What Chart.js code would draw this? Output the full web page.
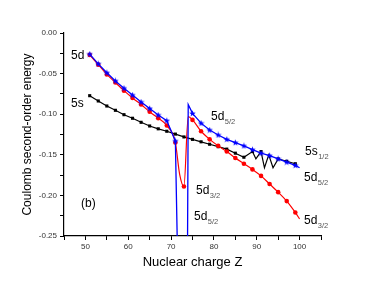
<!DOCTYPE html>
<html><head><meta charset="utf-8">
<script src="https://cdn.jsdelivr.net/npm/chart.js@4/dist/chart.umd.min.js"></script>
<style>html,body{margin:0;padding:0;background:#fff}</style>
</head><body>
<canvas id="c" width="374" height="286" style="width:374px;height:286px;display:block"></canvas>
<script>
// Nuclear charge Z and Coulomb second-order energies
const zBlue = [51,53,55,57,59,61,63,65,67,69,71,71.6,73.8,74,75,77,79,81,83,85,87,89,91,93,95,97,99,100];
const eBlue = [-0.026,-0.038,-0.049,-0.059,-0.068,-0.0765,-0.085,-0.093,-0.101,-0.108,-0.133,-0.30,-0.30,-0.088,-0.099,-0.111,-0.1195,-0.1256,-0.131,-0.135,-0.139,-0.1437,-0.148,-0.151,-0.155,-0.159,-0.163,-0.166];
const zRed = [51,53,55,57,59,61,63,65,67,69,71,72,73,74,75,77,79,81,83,85,87,89,91,93,95,97,99,100];
const eRed = [-0.027,-0.039,-0.051,-0.061,-0.071,-0.080,-0.088,-0.097,-0.105,-0.114,-0.135,-0.174,-0.189,-0.103,-0.107,-0.121,-0.131,-0.139,-0.146,-0.154,-0.161,-0.168,-0.176,-0.186,-0.196,-0.207,-0.221,-0.229];
const zBlack = [51,53,55,57,59,61,63,65,67,69,71,73,75,77,79,81,83,85,87,89,89.8,91,91.8,92.8,93.8,95,97,99];
const eBlack = [-0.0772,-0.0837,-0.0899,-0.0952,-0.1006,-0.105,-0.110,-0.1145,-0.118,-0.121,-0.1245,-0.128,-0.131,-0.134,-0.137,-0.140,-0.143,-0.148,-0.153,-0.146,-0.155,-0.146,-0.166,-0.150,-0.166,-0.155,-0.158,-0.161];
const xTicks = [50,60,70,80,90,100];
const yTicks = [0.00,-0.05,-0.10,-0.15,-0.20,-0.25];

const pts = (zs, es) => zs.map((z, i) => ({x: z, y: es[i]}));
const marked = v => Number.isInteger(v) && v % 2 === 1;

function makeStar(color) {
  const c = document.createElement('canvas');
  c.width = 7; c.height = 7;
  const g = c.getContext('2d');
  g.fillStyle = color;
  g.beginPath();
  for (let i = 0; i < 10; i++) {
    const r = i % 2 ? 1.4 : 3.4;
    const a = -Math.PI / 2 + i * Math.PI / 5;
    g.lineTo(3.5 + r * Math.cos(a), 3.7 + r * Math.sin(a));
  }
  g.closePath();
  g.fill();
  return c;
}
const star = makeStar('#0000ff');

const labels = [
  {t: '5d', s: '', x: 71, y: 59},
  {t: '5s', s: '', x: 71, y: 107},
  {t: '5d', s: '5/2', x: 211, y: 120},
  {t: '5s', s: '1/2', x: 305, y: 155},
  {t: '5d', s: '5/2', x: 304, y: 181},
  {t: '5d', s: '3/2', x: 304, y: 224},
  {t: '5d', s: '3/2', x: 196, y: 194},
  {t: '5d', s: '5/2', x: 194, y: 220},
  {t: '(b)', s: '', x: 81, y: 207}
];

const textPlugin = {
  id: 'texts',
  afterDraw(chart) {
    const ctx = chart.ctx;
    ctx.save();
    ctx.textBaseline = 'alphabetic';
    ctx.textAlign = 'left';
    labels.forEach(l => {
      ctx.font = '12px "Liberation Sans", Arial, sans-serif';
      ctx.fillStyle = '#000';
      ctx.fillText(l.t, l.x, l.y);
      if (l.s) {
        const w = ctx.measureText(l.t).width;
        ctx.font = '7.5px "Liberation Sans", Arial, sans-serif';
        ctx.fillStyle = '#555';
        ctx.fillText(l.s, l.x + w + 0.5, l.y + 4);
      }
    });
    ctx.restore();
  }
};

new Chart(document.getElementById('c'), {
  type: 'line',
  data: {
    datasets: [
      {
        label: '5d5/2', data: pts(zBlue, eBlue), borderColor: '#0000ff', backgroundColor: '#0000ff',
        borderWidth: 1.3, pointStyle: star,
        pointRadius: c => marked(c.raw.x) ? 3 : 0
      },
      {
        label: '5d3/2', data: pts(zRed, eRed), borderColor: '#ff0000', backgroundColor: '#ff0000',
        borderWidth: 1.2, pointStyle: 'circle', pointBorderWidth: 0, cubicInterpolationMode: 'monotone',
        pointRadius: c => marked(c.raw.x) ? 2.3 : 0
      },
      {
        label: '5s1/2', data: pts(zBlack, eBlack), borderColor: '#000', backgroundColor: '#000',
        borderWidth: 1.2, pointStyle: 'rect', pointBorderWidth: 0,
        pointRadius: c => marked(c.raw.x) ? 2.2 : 0
      }
    ]
  },
  options: {
    responsive: false,
    animation: false,
    devicePixelRatio: 1,
    layout: {padding: {top: 33, right: 53, left: 0, bottom: 0}},
    plugins: {legend: {display: false}, tooltip: {enabled: false}},
    elements: {line: {tension: 0}},
    scales: {
      x: {
        type: 'linear', min: 45, max: 105,
        afterFit: s => { s.height = 50; },
        ticks: {
          stepSize: 5, autoSkip: false, maxRotation: 0, padding: 2,
          color: '#333', font: {size: 8, family: '"Liberation Sans", Arial, sans-serif'},
          callback: v => xTicks.includes(v) ? String(v) : ''
        },
        grid: {display: true, drawOnChartArea: false, drawTicks: true, tickLength: 4, color: '#000'},
        border: {display: true, color: '#000', width: 1.2},
        title: {display: true, text: 'Nuclear charge Z', color: '#000',
          font: {size: 13, family: '"Liberation Sans", Arial, sans-serif'}, padding: {top: 0, bottom: 16}}
      },
      y: {
        type: 'linear', min: -0.25, max: 0,
        afterFit: s => { s.width = 64; },
        ticks: {
          stepSize: 0.025, autoSkip: false, padding: 3,
          color: '#333', font: {size: 8, family: '"Liberation Sans", Arial, sans-serif'},
          callback: v => {
            const m = yTicks.find(t => Math.abs(t - v) < 1e-6);
            return m === undefined ? '' : m.toFixed(2);
          }
        },
        grid: {display: true, drawOnChartArea: false, drawTicks: true, tickLength: 4, color: '#000'},
        border: {display: true, color: '#000', width: 1.2},
        title: {display: true, text: 'Coulomb second-order energy', color: '#000',
          font: {size: 12, family: '"Liberation Sans", Arial, sans-serif'}, padding: {top: 20, bottom: 0}}
      }
    }
  },
  plugins: [textPlugin]
});
</script>
</body></html>
